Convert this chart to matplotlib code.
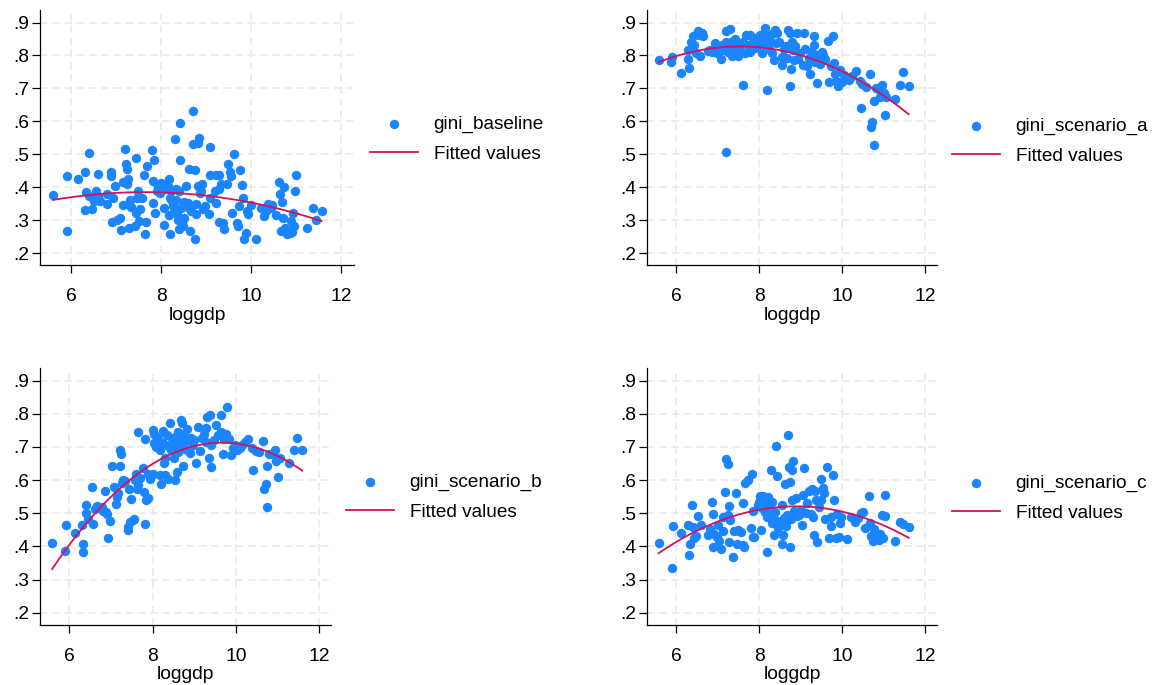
import numpy as np
import matplotlib
matplotlib.use("Agg")
import matplotlib.pyplot as plt
from matplotlib.ticker import FuncFormatter

plt.rcParams['font.family'] = ['Liberation Sans', 'DejaVu Sans']

# (loggdp, gini) pairs
baseline_pts = [
    (5.59, 0.376), (5.90, 0.434), (5.89, 0.268), (6.14, 0.426), (6.29, 0.447), (6.33, 0.386),
    (6.31, 0.330), (6.40, 0.503), (6.38, 0.374), (6.46, 0.333), (6.49, 0.358), (6.55, 0.389),
    (6.59, 0.441), (6.60, 0.374), (6.64, 0.358), (6.80, 0.381), (6.80, 0.351), (6.88, 0.446),
    (6.88, 0.434), (6.90, 0.295), (6.93, 0.369), (6.97, 0.404), (7.01, 0.301), (7.07, 0.308),
    (7.10, 0.271), (7.14, 0.416), (7.15, 0.348), (7.19, 0.515), (7.21, 0.471), (7.23, 0.456),
    (7.24, 0.409), (7.26, 0.424), (7.28, 0.278), (7.30, 0.361), (7.33, 0.340), (7.41, 0.283),
    (7.43, 0.323), (7.44, 0.490), (7.46, 0.369), (7.48, 0.389), (7.50, 0.298), (7.52, 0.335),
    (7.56, 0.369), (7.61, 0.436), (7.63, 0.258), (7.65, 0.295), (7.67, 0.464), (7.78, 0.513),
    (7.82, 0.419), (7.83, 0.482), (7.82, 0.353), (7.85, 0.323), (7.89, 0.389), (7.93, 0.404),
    (7.96, 0.384), (8.00, 0.414), (8.04, 0.409), (8.05, 0.338), (8.05, 0.285), (8.11, 0.394),
    (8.15, 0.404), (8.17, 0.424), (8.17, 0.315), (8.20, 0.258), (8.20, 0.369), (8.22, 0.389),
    (8.24, 0.358), (8.26, 0.343), (8.28, 0.325), (8.29, 0.547), (8.32, 0.394), (8.33, 0.363),
    (8.35, 0.318), (8.37, 0.301), (8.40, 0.273), (8.40, 0.389), (8.42, 0.594), (8.42, 0.483),
    (8.44, 0.338), (8.46, 0.295), (8.48, 0.283), (8.51, 0.308), (8.51, 0.355), (8.55, 0.404),
    (8.59, 0.353), (8.61, 0.338), (8.62, 0.456), (8.64, 0.268), (8.66, 0.328), (8.70, 0.631),
    (8.71, 0.533), (8.74, 0.452), (8.74, 0.244), (8.76, 0.351), (8.77, 0.318), (8.81, 0.535),
    (8.83, 0.550), (8.81, 0.404), (8.85, 0.384), (8.88, 0.389), (8.90, 0.409), (8.93, 0.333),
    (8.97, 0.343), (9.05, 0.318), (9.07, 0.369), (9.08, 0.522), (9.07, 0.439), (9.18, 0.389),
    (9.21, 0.353), (9.22, 0.437), (9.27, 0.436), (9.28, 0.394), (9.28, 0.295), (9.33, 0.409),
    (9.36, 0.291), (9.40, 0.275), (9.45, 0.409), (9.47, 0.472), (9.52, 0.446), (9.55, 0.434),
    (9.57, 0.323), (9.62, 0.502), (9.67, 0.293), (9.70, 0.283), (9.72, 0.343), (9.75, 0.452),
    (9.78, 0.406), (9.82, 0.369), (9.83, 0.242), (9.89, 0.263), (9.91, 0.328), (9.93, 0.318),
    (9.98, 0.348), (10.10, 0.244), (10.21, 0.338), (10.28, 0.313), (10.32, 0.328), (10.37, 0.351),
    (10.43, 0.338), (10.46, 0.348), (10.54, 0.315), (10.61, 0.416), (10.63, 0.379), (10.65, 0.268),
    (10.68, 0.355), (10.70, 0.308), (10.73, 0.401), (10.75, 0.278), (10.79, 0.258), (10.85, 0.263),
    (10.90, 0.265), (10.88, 0.298), (10.92, 0.323), (10.95, 0.283), (10.97, 0.389), (10.99, 0.436),
    (11.23, 0.278), (11.36, 0.338), (11.43, 0.301), (11.56, 0.328),
]

scenario_a_pts = [
    (5.58, 0.785), (5.88, 0.779), (5.90, 0.795), (6.12, 0.747), (6.28, 0.816), (6.28, 0.789),
    (6.32, 0.762), (6.36, 0.840), (6.40, 0.858), (6.44, 0.833), (6.48, 0.807), (6.52, 0.873),
    (6.55, 0.863), (6.58, 0.797), (6.63, 0.868), (6.65, 0.858), (6.77, 0.813), (6.82, 0.818),
    (6.87, 0.810), (6.93, 0.837), (6.95, 0.827), (6.98, 0.807), (7.03, 0.815), (7.09, 0.789),
    (7.11, 0.832), (7.15, 0.818), (7.19, 0.873), (7.21, 0.840), (7.21, 0.507), (7.25, 0.810),
    (7.29, 0.880), (7.31, 0.822), (7.33, 0.842), (7.35, 0.799), (7.39, 0.830), (7.41, 0.850),
    (7.45, 0.822), (7.47, 0.810), (7.49, 0.798), (7.52, 0.836), (7.55, 0.818), (7.60, 0.842),
    (7.61, 0.709), (7.65, 0.808), (7.68, 0.863), (7.73, 0.832), (7.77, 0.863), (7.79, 0.812),
    (7.84, 0.840), (7.87, 0.853), (7.90, 0.822), (7.94, 0.850), (7.98, 0.833), (8.02, 0.863),
    (8.06, 0.807), (8.08, 0.847), (8.11, 0.868), (8.15, 0.883), (8.16, 0.833), (8.19, 0.694),
    (8.22, 0.855), (8.24, 0.820), (8.27, 0.842), (8.30, 0.865), (8.32, 0.807), (8.35, 0.787),
    (8.38, 0.876), (8.40, 0.837), (8.44, 0.868), (8.48, 0.842), (8.54, 0.795), (8.56, 0.772),
    (8.60, 0.820), (8.65, 0.830), (8.66, 0.792), (8.70, 0.878), (8.73, 0.868), (8.74, 0.707),
    (8.76, 0.759), (8.78, 0.840), (8.81, 0.818), (8.84, 0.785), (8.86, 0.830), (8.90, 0.868),
    (8.94, 0.789), (8.98, 0.807), (9.05, 0.772), (9.08, 0.868), (9.10, 0.820), (9.15, 0.767),
    (9.19, 0.792), (9.23, 0.745), (9.27, 0.812), (9.31, 0.860), (9.32, 0.832), (9.35, 0.779),
    (9.39, 0.803), (9.40, 0.717), (9.43, 0.789), (9.47, 0.775), (9.51, 0.812), (9.53, 0.802),
    (9.59, 0.789), (9.65, 0.843), (9.69, 0.719), (9.73, 0.767), (9.77, 0.858), (9.79, 0.777),
    (9.83, 0.745), (9.85, 0.722), (9.89, 0.707), (9.94, 0.757), (9.99, 0.719), (10.03, 0.742),
    (10.15, 0.727), (10.23, 0.739), (10.34, 0.752), (10.42, 0.722), (10.44, 0.641), (10.48, 0.715),
    (10.56, 0.705), (10.66, 0.745), (10.68, 0.583), (10.72, 0.598), (10.76, 0.661), (10.77, 0.527),
    (10.80, 0.702), (10.85, 0.697), (10.92, 0.674), (10.96, 0.712), (11.00, 0.686), (11.02, 0.621),
    (11.06, 0.674), (11.28, 0.668), (11.40, 0.709), (11.47, 0.749), (11.60, 0.707),
]

scenario_b_pts = [
    (5.59, 0.409), (5.90, 0.385), (5.92, 0.465), (6.14, 0.439), (6.30, 0.465), (6.34, 0.407),
    (6.34, 0.382), (6.40, 0.526), (6.40, 0.500), (6.46, 0.483), (6.54, 0.579), (6.58, 0.468),
    (6.62, 0.513), (6.66, 0.523), (6.78, 0.518), (6.82, 0.508), (6.86, 0.566), (6.88, 0.503),
    (6.91, 0.498), (6.94, 0.425), (6.98, 0.478), (7.02, 0.641), (7.08, 0.579), (7.12, 0.528),
    (7.14, 0.548), (7.18, 0.561), (7.22, 0.692), (7.24, 0.678), (7.22, 0.641), (7.26, 0.591),
    (7.30, 0.601), (7.34, 0.597), (7.40, 0.450), (7.42, 0.460), (7.44, 0.574), (7.46, 0.473),
    (7.48, 0.543), (7.52, 0.480), (7.56, 0.483), (7.58, 0.599), (7.61, 0.617), (7.62, 0.574),
    (7.64, 0.584), (7.66, 0.745), (7.69, 0.607), (7.78, 0.637), (7.80, 0.564), (7.82, 0.468),
    (7.82, 0.725), (7.85, 0.540), (7.88, 0.546), (7.90, 0.619), (7.94, 0.604), (8.01, 0.619),
    (8.02, 0.751), (8.04, 0.738), (8.04, 0.712), (8.09, 0.700), (8.12, 0.728), (8.17, 0.690),
    (8.18, 0.614), (8.20, 0.589), (8.25, 0.712), (8.26, 0.748), (8.28, 0.652), (8.30, 0.668),
    (8.30, 0.614), (8.34, 0.735), (8.36, 0.702), (8.38, 0.604), (8.41, 0.771), (8.44, 0.692),
    (8.46, 0.715), (8.49, 0.728), (8.52, 0.668), (8.54, 0.599), (8.57, 0.708), (8.58, 0.624),
    (8.60, 0.685), (8.62, 0.745), (8.65, 0.720), (8.68, 0.781), (8.70, 0.771), (8.73, 0.641),
    (8.74, 0.705), (8.76, 0.735), (8.78, 0.695), (8.83, 0.753), (8.87, 0.720), (8.89, 0.682),
    (8.92, 0.728), (8.97, 0.705), (9.00, 0.720), (9.05, 0.652), (9.08, 0.761), (9.13, 0.688),
    (9.19, 0.728), (9.24, 0.738), (9.27, 0.715), (9.29, 0.758), (9.31, 0.789), (9.35, 0.667),
    (9.37, 0.796), (9.39, 0.705), (9.40, 0.639), (9.47, 0.720), (9.53, 0.766), (9.56, 0.735),
    (9.63, 0.796), (9.64, 0.745), (9.69, 0.680), (9.72, 0.725), (9.77, 0.738), (9.79, 0.821),
    (9.83, 0.725), (9.88, 0.675), (9.93, 0.698), (9.98, 0.705), (10.03, 0.690), (10.10, 0.698),
    (10.14, 0.705), (10.22, 0.715), (10.30, 0.725), (10.38, 0.698), (10.41, 0.629), (10.47, 0.688),
    (10.55, 0.685), (10.65, 0.718), (10.67, 0.574), (10.71, 0.587), (10.74, 0.641), (10.75, 0.518),
    (10.79, 0.678), (10.87, 0.680), (10.93, 0.692), (10.95, 0.657), (11.01, 0.609), (11.06, 0.667),
    (11.27, 0.652), (11.39, 0.692), (11.47, 0.728), (11.59, 0.692),
]

scenario_c_pts = [
    (5.58, 0.409), (5.90, 0.334), (5.92, 0.463), (6.12, 0.439), (6.28, 0.466), (6.32, 0.375),
    (6.34, 0.407), (6.38, 0.526), (6.40, 0.458), (6.44, 0.425), (6.48, 0.432), (6.52, 0.493),
    (6.60, 0.466), (6.76, 0.435), (6.82, 0.453), (6.86, 0.535), (6.88, 0.498), (6.90, 0.397),
    (6.92, 0.437), (6.98, 0.427), (7.00, 0.466), (7.04, 0.417), (7.08, 0.392), (7.12, 0.490),
    (7.14, 0.445), (7.18, 0.564), (7.20, 0.665), (7.24, 0.648), (7.26, 0.496), (7.28, 0.523),
    (7.30, 0.480), (7.28, 0.412), (7.38, 0.367), (7.40, 0.445), (7.44, 0.561), (7.46, 0.407),
    (7.48, 0.450), (7.52, 0.445), (7.56, 0.442), (7.60, 0.405), (7.62, 0.530), (7.64, 0.397),
    (7.66, 0.591), (7.74, 0.601), (7.80, 0.456), (7.82, 0.617), (7.84, 0.427), (7.86, 0.508),
    (7.88, 0.429), (7.96, 0.526), (8.00, 0.533), (8.02, 0.551), (8.04, 0.450), (8.06, 0.516),
    (8.10, 0.551), (8.12, 0.540), (8.14, 0.503), (8.16, 0.533), (8.18, 0.382), (8.20, 0.490),
    (8.22, 0.548), (8.24, 0.520), (8.26, 0.506), (8.28, 0.629), (8.30, 0.533), (8.32, 0.470),
    (8.34, 0.486), (8.36, 0.435), (8.38, 0.503), (8.40, 0.702), (8.42, 0.611), (8.44, 0.476),
    (8.46, 0.456), (8.50, 0.468), (8.54, 0.407), (8.56, 0.526), (8.58, 0.435), (8.60, 0.486),
    (8.62, 0.587), (8.64, 0.463), (8.66, 0.496), (8.70, 0.735), (8.72, 0.639), (8.74, 0.594),
    (8.74, 0.397), (8.76, 0.483), (8.78, 0.540), (8.80, 0.629), (8.82, 0.658), (8.84, 0.508),
    (8.88, 0.546), (8.92, 0.493), (8.96, 0.496), (9.00, 0.510), (9.04, 0.466), (9.06, 0.554),
    (9.08, 0.637), (9.12, 0.500), (9.16, 0.530), (9.20, 0.567), (9.24, 0.498), (9.26, 0.574),
    (9.30, 0.490), (9.32, 0.435), (9.34, 0.567), (9.36, 0.540), (9.40, 0.412), (9.44, 0.518),
    (9.48, 0.540), (9.50, 0.604), (9.54, 0.577), (9.56, 0.561), (9.58, 0.483), (9.64, 0.639),
    (9.68, 0.425), (9.72, 0.463), (9.74, 0.490), (9.78, 0.614), (9.80, 0.540), (9.84, 0.425),
    (9.88, 0.498), (9.92, 0.427), (9.94, 0.470), (9.98, 0.488), (10.12, 0.422), (10.20, 0.488),
    (10.30, 0.473), (10.38, 0.486), (10.46, 0.500), (10.50, 0.503), (10.54, 0.456), (10.64, 0.551),
    (10.66, 0.470), (10.70, 0.432), (10.74, 0.417), (10.76, 0.453), (10.82, 0.429), (10.88, 0.419),
    (10.92, 0.437), (10.96, 0.496), (10.98, 0.425), (11.02, 0.493), (11.04, 0.554), (11.26, 0.417),
    (11.38, 0.473), (11.46, 0.468), (11.60, 0.460),
]

series_names = ["gini_baseline", "gini_scenario_a", "gini_scenario_b", "gini_scenario_c"]
x_ticks = [6, 8, 10, 12]
y_ticks = [0.2, 0.3, 0.4, 0.5, 0.6, 0.7, 0.8, 0.9]

BLUE = "#1a85ff"
RED = "#d41159"
GRID = "#e8e8e8"

W, H = 1153, 685

# axes boxes in pixels: left, top, right, bottom; legend anchor (left, center y)
axes_px = [(40, 10, 354, 265.5), (647, 10, 937, 265.5),
           (40, 368, 331, 625), (647, 368, 937, 625)]
legend_px = [(370, 139), (952, 141), (346, 497), (952, 498)]


def px_box(l, t, r, b):
    return [l / W, 1 - b / H, (r - l) / W, (b - t) / H]


def gini_fmt(v, _pos):
    return f"{v:.1f}".lstrip("0")


fig = plt.figure(figsize=(W / 100, H / 100), dpi=100)

all_pts = [baseline_pts, scenario_a_pts, scenario_b_pts, scenario_c_pts]
for pts, name, box, leg in zip(all_pts, series_names, axes_px, legend_px):
    ax = fig.add_axes(px_box(*box))
    x, y = np.array(pts).T

    sc = ax.scatter(x, y, s=46, color=BLUE, linewidths=0, zorder=3)
    # quadratic fit, like Stata's qfit
    coef = np.polyfit(x, y, 2)
    xs = np.linspace(x.min(), x.max(), 200)
    ln, = ax.plot(xs, np.polyval(coef, xs), color=RED, lw=1.3, zorder=4)

    ax.set_xlim(5.3, 12.28)
    ax.set_ylim(0.163, 0.938)
    ax.set_xticks(x_ticks)
    ax.set_yticks(y_ticks)
    ax.yaxis.set_major_formatter(FuncFormatter(gini_fmt))
    ax.grid(True, color=GRID, lw=1.1, ls=(0, (5, 3)), zorder=0)

    for side in ("top", "right"):
        ax.spines[side].set_visible(False)
    for side in ("left", "bottom"):
        ax.spines[side].set_linewidth(0.9)

    ax.tick_params(axis="x", length=6, width=0.9, pad=10.5, labelsize=13.9)
    ax.tick_params(axis="y", length=6, width=0.9, pad=2, labelsize=13.9)
    ax.set_xlabel("loggdp", fontsize=13.9, labelpad=1)

    ax.legend([sc, ln], [name, "Fitted values"], loc="center left",
              bbox_to_anchor=(leg[0] / W, 1 - leg[1] / H), bbox_transform=fig.transFigure,
              frameon=False, borderpad=0, borderaxespad=0, handlelength=2.5,
              handletextpad=0.85, labelspacing=0.66, fontsize=13.7)

fig.savefig("out.png", dpi=100)
